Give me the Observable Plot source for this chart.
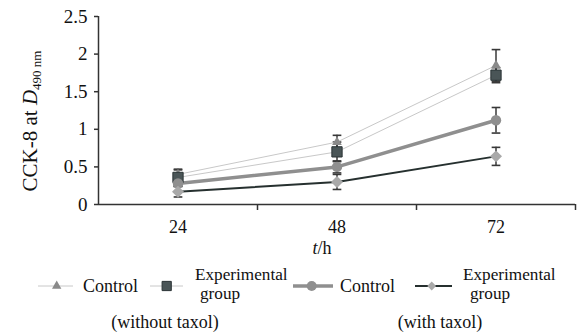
<!DOCTYPE html>
<html><head><meta charset="utf-8">
<script src="https://cdn.jsdelivr.net/npm/d3@7"></script>
<script src="https://cdn.jsdelivr.net/npm/@observablehq/plot@0.6"></script>
<style>
body{margin:0;background:#fff;font-family:"Liberation Serif","Times New Roman",serif;}
#wrap{position:relative;width:577px;height:335px;overflow:hidden;}
#chart{position:absolute;left:0;top:0;}
#legend{position:absolute;left:0;top:262px;}
</style></head><body><div id="wrap"><div id="chart"></div><div id="legend"></div></div>
<script>
// ---- data ----
const hours = [24, 48, 72];
const hourBoundaries = [36, 60, 84];
const yTicks = [0, 0.5, 1, 1.5, 2, 2.5];
const ctrlNoTaxol = [0.40, 0.83, 1.85];
const ctrlNoTaxolErr = [0.06, 0.09, 0.21];
const expNoTaxol = [0.36, 0.70, 1.72];
const expNoTaxolErr = [0.11, 0.13, 0.10];
const ctrlTaxol = [0.28, 0.50, 1.12];
const ctrlTaxolErr = [0.04, 0.08, 0.17];
const expTaxol = [0.17, 0.30, 0.64];
const expTaxolErr = [0.07, 0.10, 0.12];
const legendLabels = ["Control", "Experimental group", "Control", "Experimental group"];
const groupLabels = ["(without taxol)", "(with taxol)"];

const FONT = "'Liberation Serif', 'Times New Roman', serif";
const rows = (vals, errs) => hours.map((h, i) => ({t: h, v: vals[i], lo: vals[i] - errs[i], hi: vals[i] + errs[i]}));
const dCN = rows(ctrlNoTaxol, ctrlNoTaxolErr);
const dEN = rows(expNoTaxol, expNoTaxolErr);
const dCT = rows(ctrlTaxol, ctrlTaxolErr);
const dET = rows(expTaxol, expTaxolErr);

const cap = {draw(ctx, size) { const w = Math.sqrt(size) / 2; ctx.moveTo(-w, 0); ctx.lineTo(w, 0); }};
const errC = "#383838";
const errMarks = (d) => [
  Plot.ruleX(d, {x: "t", y1: "lo", y2: "hi", stroke: errC, strokeWidth: 1.5}),
  Plot.dot(d, {x: "t", y: "lo", symbol: cap, r: 4.9, fill: "none", stroke: errC, strokeWidth: 1.6}),
  Plot.dot(d, {x: "t", y: "hi", symbol: cap, r: 4.9, fill: "none", stroke: errC, strokeWidth: 1.6})
];

const S = {
  tri: "#8a8a8a", thin: "#c8c8c8",
  sqFill: "#4a5557", sqStroke: "#2a3335",
  circ: "#8f8f8f",
  diaFill: "#a9a9a9", diaLine: "#26302f"
};

const plot = Plot.plot({
  width: 577, height: 262,
  marginLeft: 98, marginRight: 2, marginTop: 16, marginBottom: 58,
  style: {fontFamily: FONT, fontSize: "18px", color: "#111", background: "transparent", overflow: "visible"},
  x: {type: "linear", domain: [12, 84]},
  y: {domain: [0, 2.5]},
  marks: [
    ...errMarks(dET), ...errMarks(dCT), ...errMarks(dCN), ...errMarks(dEN),
    Plot.line(dCN, {x: "t", y: "v", stroke: S.thin, strokeWidth: 1}),
    Plot.line(dEN, {x: "t", y: "v", stroke: S.thin, strokeWidth: 1}),
    Plot.line(dCT, {x: "t", y: "v", stroke: S.circ, strokeWidth: 3.5}),
    Plot.line(dET, {x: "t", y: "v", stroke: S.diaLine, strokeWidth: 2}),
    Plot.dot(dCN, {x: "t", y: "v", symbol: "triangle", r: 3.6, fill: S.tri, stroke: "none"}),
    Plot.dot(dEN, {x: "t", y: "v", symbol: "square", r: 5.8, fill: S.sqFill, stroke: S.sqStroke, strokeWidth: 1}),
    Plot.dot(dCT, {x: "t", y: "v", symbol: "circle", r: 5.2, fill: S.circ, stroke: "none"}),
    Plot.dot(dET, {x: "t", y: "v", symbol: "diamond2", r: 5.4, fill: S.diaFill, stroke: "none"}),
    Plot.ruleX([12], {y1: 0, y2: 2.5, stroke: "#333", strokeWidth: 1.5}),
    Plot.ruleY([0], {x1: 12, x2: 84, stroke: "#333", strokeWidth: 1.5}),
    Plot.axisY({ticks: yTicks, tickSize: 4, tickPadding: 7, tickFormat: d => String(d), fontSize: 19, stroke: "#333", strokeWidth: 1.5, label: null}),
    Plot.axisX({ticks: hourBoundaries, tickSize: 6, tickFormat: () => "", stroke: "#333", strokeWidth: 1.5, label: null}),
    Plot.axisX({ticks: hours, tickSize: 0, tickPadding: 16, fontSize: 18, label: null})
  ]
});
document.getElementById("chart").appendChild(plot);

const svg = d3.select(plot);
const yl = svg.append("text")
  .attr("transform", "translate(37,121) rotate(-90)")
  .attr("text-anchor", "middle").attr("font-size", 21).attr("fill", "#111");
yl.append("tspan").text("CCK-8 at ");
yl.append("tspan").attr("font-style", "italic").text("D");
yl.append("tspan").attr("font-size", 13).attr("dy", 4).text("490 nm");

const xl = svg.append("text")
  .attr("x", 322).attr("y", 254).attr("text-anchor", "middle").attr("font-size", 18).attr("fill", "#111");
xl.append("tspan").attr("font-style", "italic").text("t");
xl.append("tspan").text("/h");

// ---- legend ----
const lg = d3.select("#legend").append("svg").attr("width", 577).attr("height", 73)
  .style("font-family", FONT).style("font-size", "18px");
const cy = 24;
const sym = (type, size) => d3.symbol().type(type).size(size)();
// item 1
lg.append("line").attr("x1", 38).attr("x2", 73).attr("y1", cy).attr("y2", cy).attr("stroke", S.thin).attr("stroke-width", 1);
lg.append("path").attr("d", sym(d3.symbolTriangle, 38)).attr("transform", `translate(56.7,${cy})`).attr("fill", S.tri);
lg.append("text").attr("x", 83).attr("y", 29.7).attr("fill", "#111").text(legendLabels[0]);
// item 2
lg.append("line").attr("x1", 150).attr("x2", 183).attr("y1", cy).attr("y2", cy).attr("stroke", S.thin).attr("stroke-width", 1);
lg.append("path").attr("d", sym(d3.symbolSquare, 85)).attr("transform", `translate(166.7,${cy})`).attr("fill", S.sqFill).attr("stroke", S.sqStroke);
const [e1, g1] = legendLabels[1].split(" ");
lg.append("text").attr("x", 195).attr("y", 17.5).attr("font-size", 17.2).attr("fill", "#111").text(e1);
lg.append("text").attr("x", 200).attr("y", 36.6).attr("font-size", 17.2).attr("fill", "#111").text(g1);
// item 3
lg.append("line").attr("x1", 293).attr("x2", 333).attr("y1", cy).attr("y2", cy).attr("stroke", S.circ).attr("stroke-width", 3.5);
lg.append("circle").attr("cx", 311.7).attr("cy", cy).attr("r", 5).attr("fill", S.circ);
lg.append("text").attr("x", 340).attr("y", 29.7).attr("fill", "#111").text(legendLabels[2]);
// item 4
lg.append("line").attr("x1", 415).attr("x2", 452).attr("y1", cy).attr("y2", cy).attr("stroke", S.diaLine).attr("stroke-width", 2);
lg.append("path").attr("d", sym(d3.symbolDiamond2, 50)).attr("transform", `translate(431.7,${cy})`).attr("fill", S.diaFill);
const [e2, g2] = legendLabels[3].split(" ");
lg.append("text").attr("x", 463).attr("y", 17.5).attr("font-size", 17.2).attr("fill", "#111").text(e2);
lg.append("text").attr("x", 470).attr("y", 36.6).attr("font-size", 17.2).attr("fill", "#111").text(g2);
// group labels
lg.append("text").attr("x", 165).attr("y", 66).attr("text-anchor", "middle").attr("fill", "#111").text(groupLabels[0]);
lg.append("text").attr("x", 440).attr("y", 66).attr("text-anchor", "middle").attr("fill", "#111").text(groupLabels[1]);
</script>
</body></html>
